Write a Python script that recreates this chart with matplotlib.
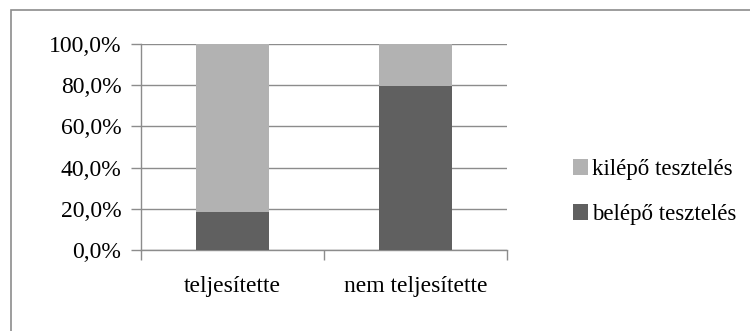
import numpy as np
import matplotlib
matplotlib.use("Agg")
import matplotlib.pyplot as plt
from matplotlib.patches import Rectangle
from matplotlib.ticker import FuncFormatter

categories = ["teljesítette", "nem teljesítette"]
belepo = [18.3, 79.8]                     # belépő tesztelés, %
kilepo = [100 - v for v in belepo]        # kilépő tesztelés, %
series_labels = ["belépő tesztelés", "kilépő tesztelés"]
colors = ["#606060", "#b2b2b2"]
grid_color = "#8c8c8c"

plt.rcParams["font.family"] = ["Liberation Serif", "DejaVu Serif"]

fig = plt.figure(figsize=(7.5, 3.31), dpi=100)
ax = fig.add_axes([0.1876, 0.2456, 0.4884, 0.6206])

x = np.arange(len(categories))
h1 = ax.bar(x, belepo, width=0.4, color=colors[0], label=series_labels[0], zorder=3)
h2 = ax.bar(x, kilepo, width=0.4, bottom=belepo, color=colors[1],
            label=series_labels[1], zorder=3)

ax.set_xlim(-0.5, len(categories) - 0.5)
ax.set_ylim(0, 100)
ax.set_yticks(np.arange(0, 101, 20))
ax.yaxis.set_major_formatter(FuncFormatter(lambda v, p: f"{v:.1f}%".replace(".", ",")))
ax.yaxis.grid(True, color=grid_color, linewidth=1.0, zorder=0)

# category labels in the middle, tick marks at the boundaries
ax.set_xticks(x)
ax.set_xticklabels(categories)
ax.set_xticks(np.arange(-0.5, len(categories), 1.0), minor=True)
ax.tick_params(axis="x", which="major", length=0, pad=19, labelsize=17)
ax.tick_params(axis="x", which="minor", length=7, color=grid_color, width=1)
ax.tick_params(axis="y", length=7, color=grid_color, width=1, pad=7, labelsize=17)

for side in ("top", "right"):
    ax.spines[side].set_visible(False)
for side in ("left", "bottom"):
    ax.spines[side].set_color(grid_color)
    ax.spines[side].set_linewidth(1.0)

ax.legend([h2, h1], [series_labels[1], series_labels[0]],
          loc="center left", bbox_to_anchor=(0.764, 0.42),
          bbox_transform=fig.transFigure, frameon=False, fontsize=16.5,
          handlelength=0.65, handleheight=0.65, handletextpad=0.18,
          labelspacing=1.05, borderaxespad=0, borderpad=0)

# chart frame
fig.patches.append(Rectangle((11 / 750, -0.1), 1.2, 1.1 - 10 / 331,
                             transform=fig.transFigure, fill=False,
                             edgecolor="#8c8c8c", linewidth=1.2))

fig.savefig("out.png", dpi=100)
